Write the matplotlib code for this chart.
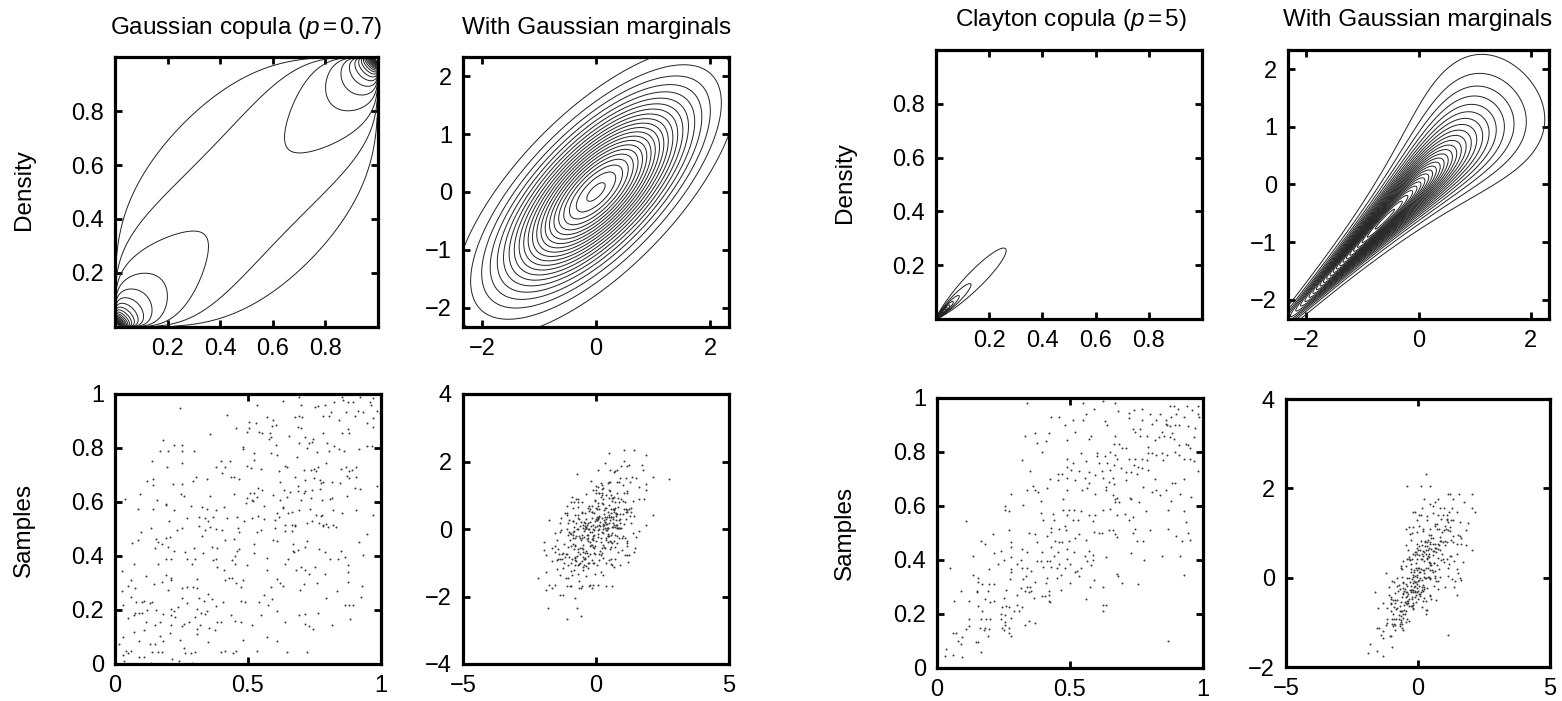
import math

import matplotlib
matplotlib.use("Agg")
import matplotlib.pyplot as plt
import numpy as np

plt.rcParams["font.family"] = ["Liberation Sans", "DejaVu Sans"]
plt.rcParams["mathtext.fontset"] = "custom"
plt.rcParams["mathtext.it"] = "Liberation Sans:italic"
plt.rcParams["mathtext.rm"] = "Liberation Sans"

# copula parameters
RHO = 0.7
THETA = 5.0

# contour levels
gauss_copula_levels = np.arange(0.5, 13.01, 0.5)
gauss_marg_levels = np.arange(0.01, 0.225, 0.01)
clayton_copula_levels = np.arange(5, 101, 5)
clayton_marg_levels = np.arange(0.02, 0.61, 0.02)

# samples in copula space (u, v)
gauss_samples = [
    (0.243, 0.949), (0.534, 0.959), (0.630, 0.975), (0.692, 0.988), (0.700, 0.959), (0.751, 0.953),
    (0.764, 0.957), (0.788, 0.959), (0.823, 0.970), (0.852, 0.990), (0.858, 0.978), (0.877, 0.969),
    (0.896, 0.972), (0.921, 0.990), (0.959, 0.972), (0.961, 0.959), (0.971, 0.986),
    (0.421, 0.921), (0.504, 0.898), (0.529, 0.894), (0.573, 0.914), (0.595, 0.904), (0.604, 0.885),
    (0.589, 0.881), (0.677, 0.914), (0.690, 0.920), (0.704, 0.916), (0.783, 0.917), (0.806, 0.917),
    (0.813, 0.933), (0.843, 0.904), (0.870, 0.933), (0.902, 0.917), (0.912, 0.938), (0.934, 0.933),
    (0.946, 0.893), (0.969, 0.910), (0.971, 0.877), (0.984, 0.938),
    (0.356, 0.853), (0.455, 0.875), (0.495, 0.859), (0.505, 0.875), (0.543, 0.860), (0.551, 0.856),
    (0.583, 0.857), (0.586, 0.842), (0.578, 0.832), (0.653, 0.846), (0.688, 0.877), (0.698, 0.873),
    (0.714, 0.840), (0.731, 0.817), (0.739, 0.821), (0.746, 0.832), (0.782, 0.854), (0.855, 0.854),
    (0.877, 0.869), (0.881, 0.857),
    (0.182, 0.828), (0.169, 0.790), (0.201, 0.789), (0.223, 0.811), (0.250, 0.810), (0.252, 0.788),
    (0.297, 0.788), (0.480, 0.802), (0.483, 0.795), (0.524, 0.780), (0.585, 0.780), (0.605, 0.810),
    (0.610, 0.774), (0.692, 0.817), (0.721, 0.800), (0.758, 0.784), (0.797, 0.817), (0.806, 0.790),
    (0.823, 0.809), (0.841, 0.795), (0.861, 0.790), (0.917, 0.798), (0.949, 0.809), (0.965, 0.809),
    (0.683, 0.765),
    (0.138, 0.752), (0.250, 0.746), (0.398, 0.751), (0.434, 0.751), (0.197, 0.731), (0.380, 0.731),
    (0.414, 0.728), (0.497, 0.733), (0.511, 0.725), (0.550, 0.721), (0.524, 0.756), (0.618, 0.716),
    (0.639, 0.733), (0.648, 0.731), (0.712, 0.719), (0.735, 0.719), (0.749, 0.721), (0.756, 0.715),
    (0.762, 0.731), (0.794, 0.746), (0.850, 0.723), (0.868, 0.728), (0.881, 0.715), (0.890, 0.719),
    (0.905, 0.731),
    (0.119, 0.679), (0.141, 0.684), (0.141, 0.663), (0.217, 0.665), (0.253, 0.665), (0.303, 0.691),
    (0.295, 0.679), (0.345, 0.684), (0.402, 0.706), (0.437, 0.694), (0.446, 0.691), (0.465, 0.686),
    (0.620, 0.675), (0.677, 0.691), (0.689, 0.659), (0.714, 0.681), (0.749, 0.690), (0.770, 0.681),
    (0.774, 0.672), (0.783, 0.675), (0.815, 0.675), (0.846, 0.669), (0.873, 0.696), (0.881, 0.688),
    (0.905, 0.694), (0.902, 0.653), (0.921, 0.647), (0.984, 0.659),
    (0.039, 0.610), (0.095, 0.631), (0.159, 0.607), (0.190, 0.593), (0.247, 0.630), (0.258, 0.622),
    (0.357, 0.622), (0.447, 0.628), (0.495, 0.614), (0.508, 0.635), (0.524, 0.633), (0.533, 0.620),
    (0.539, 0.651), (0.551, 0.644), (0.492, 0.598), (0.514, 0.607), (0.520, 0.604), (0.560, 0.585),
    (0.595, 0.626), (0.637, 0.644), (0.658, 0.638), (0.689, 0.641), (0.711, 0.635), (0.714, 0.641),
    (0.739, 0.644), (0.771, 0.647), (0.779, 0.607), (0.808, 0.610), (0.815, 0.616), (0.620, 0.607),
    (0.645, 0.617), (0.698, 0.607), (0.737, 0.614), (0.872, 0.622),
    (0.088, 0.573), (0.144, 0.573), (0.192, 0.589), (0.223, 0.570), (0.284, 0.585), (0.326, 0.580),
    (0.345, 0.573), (0.380, 0.570), (0.410, 0.580), (0.630, 0.577), (0.633, 0.583), (0.608, 0.558),
    (0.649, 0.560), (0.665, 0.564), (0.690, 0.570), (0.733, 0.573), (0.754, 0.552), (0.773, 0.548),
    (0.780, 0.552), (0.821, 0.570), (0.852, 0.560), (0.905, 0.570), (0.971, 0.552),
    (0.202, 0.528), (0.269, 0.541), (0.317, 0.543), (0.338, 0.541), (0.348, 0.528), (0.370, 0.546),
    (0.420, 0.541), (0.457, 0.546), (0.485, 0.528), (0.514, 0.541), (0.539, 0.548), (0.560, 0.536),
    (0.602, 0.533), (0.617, 0.546), (0.638, 0.515), (0.664, 0.515), (0.678, 0.515), (0.720, 0.523),
    (0.739, 0.528), (0.768, 0.521), (0.783, 0.515), (0.793, 0.517), (0.818, 0.515),
    (0.096, 0.490), (0.135, 0.502), (0.232, 0.496), (0.251, 0.502), (0.317, 0.512), (0.338, 0.496),
    (0.357, 0.509), (0.380, 0.500), (0.401, 0.496), (0.461, 0.504), (0.466, 0.488), (0.533, 0.490),
    (0.548, 0.496), (0.600, 0.504), (0.640, 0.493), (0.664, 0.493), (0.677, 0.512), (0.783, 0.512),
    (0.802, 0.509), (0.831, 0.509), (0.946, 0.480),
    (0.063, 0.447), (0.088, 0.459), (0.154, 0.463), (0.163, 0.451), (0.175, 0.443), (0.190, 0.468),
    (0.207, 0.472), (0.150, 0.431), (0.198, 0.435), (0.223, 0.419), (0.263, 0.416), (0.297, 0.431),
    (0.326, 0.474), (0.363, 0.435), (0.382, 0.431), (0.414, 0.459), (0.447, 0.462), (0.467, 0.426),
    (0.460, 0.419), (0.523, 0.443), (0.523, 0.410), (0.570, 0.394), (0.595, 0.459), (0.608, 0.456),
    (0.670, 0.443), (0.674, 0.416), (0.689, 0.422), (0.714, 0.435), (0.723, 0.456), (0.768, 0.426),
    (0.789, 0.414), (0.848, 0.420), (0.918, 0.451), (0.934, 0.404),
    (0.19, 0.39), (0.21, 0.39), (0.27, 0.39), (0.30, 0.39), (0.33, 0.41), (0.37, 0.385), (0.38, 0.39),
    (0.44, 0.385), (0.45, 0.40), (0.65, 0.39), (0.67, 0.42), (0.81, 0.39), (0.84, 0.39), (0.865, 0.395),
    (0.07, 0.37), (0.16, 0.37), (0.29, 0.37), (0.385, 0.36), (0.45, 0.37), (0.495, 0.365), (0.64, 0.37),
    (0.70, 0.36), (0.715, 0.35), (0.75, 0.36), (0.875, 0.365), (0.41, 0.35), (0.57, 0.35), (0.68, 0.35),
    (0.025, 0.345), (0.115, 0.325), (0.19, 0.33), (0.21, 0.32), (0.73, 0.335), (0.79, 0.335),
    (0.875, 0.34), (0.43, 0.32), (0.44, 0.32),
    (0.06, 0.31), (0.145, 0.295), (0.21, 0.31), (0.31, 0.315), (0.415, 0.31), (0.455, 0.30), (0.48, 0.31),
    (0.475, 0.285), (0.61, 0.315), (0.62, 0.30), (0.63, 0.29), (0.71, 0.295), (0.76, 0.30), (0.875, 0.305),
    (0.93, 0.29), (0.05, 0.29), (0.076, 0.28), (0.175, 0.305), (0.20, 0.275), (0.25, 0.28), (0.27, 0.285),
    (0.295, 0.285), (0.31, 0.28), (0.585, 0.285), (0.695, 0.275),
    (0.025, 0.27), (0.06, 0.25), (0.08, 0.23), (0.10, 0.23), (0.11, 0.235), (0.13, 0.225), (0.14, 0.23),
    (0.25, 0.245), (0.27, 0.225), (0.315, 0.245), (0.335, 0.235), (0.35, 0.26), (0.365, 0.24),
    (0.38, 0.215), (0.405, 0.23), (0.475, 0.235), (0.49, 0.23), (0.54, 0.23), (0.56, 0.255), (0.575, 0.22),
    (0.59, 0.24), (0.795, 0.245), (0.835, 0.27), (0.865, 0.22), (0.88, 0.22), (0.895, 0.22), (0.925, 0.25),
    (0.03, 0.22),
    (0.075, 0.19), (0.09, 0.19), (0.10, 0.19), (0.07, 0.18), (0.05, 0.17), (0.12, 0.20), (0.155, 0.20),
    (0.18, 0.185), (0.21, 0.205), (0.22, 0.195), (0.235, 0.21), (0.21, 0.18), (0.26, 0.15), (0.28, 0.155),
    (0.30, 0.175), (0.31, 0.205), (0.325, 0.19), (0.34, 0.185), (0.345, 0.195), (0.435, 0.18),
    (0.45, 0.16), (0.475, 0.155), (0.515, 0.145), (0.55, 0.18), (0.61, 0.195), (0.64, 0.155), (0.69, 0.18),
    (0.715, 0.185), (0.715, 0.15), (0.73, 0.14), (0.745, 0.13), (0.765, 0.19), (0.815, 0.145),
    (0.885, 0.165), (0.115, 0.155), (0.17, 0.155), (0.21, 0.145), (0.225, 0.175),
    (0.07, 0.12), (0.11, 0.125), (0.15, 0.145), (0.205, 0.115), (0.25, 0.14), (0.31, 0.13), (0.32, 0.145),
    (0.31, 0.11), (0.355, 0.135), (0.385, 0.155), (0.375, 0.125), (0.40, 0.155), (0.17, 0.105),
    (0.09, 0.085), (0.18, 0.085), (0.03, 0.10), (0.015, 0.075), (0.57, 0.10), (0.61, 0.085), (0.48, 0.09),
    (0.35, 0.08), (0.245, 0.09),
    (0.15, 0.075), (0.13, 0.075), (0.04, 0.05), (0.05, 0.04), (0.06, 0.05), (0.03, 0.035), (0.035, 0.01),
    (0.09, 0.025), (0.11, 0.025), (0.14, 0.045), (0.16, 0.045), (0.175, 0.045), (0.215, 0.02),
    (0.24, 0.01), (0.26, 0.06), (0.265, 0.04), (0.285, 0.04), (0.30, 0.045), (0.29, 0.005), (0.40, 0.045),
    (0.415, 0.05), (0.445, 0.04), (0.455, 0.05), (0.535, 0.05), (0.645, 0.045), (0.72, 0.045),
    (0.997, 0.93), (0.136, 0.004),
]

clayton_samples = [
    (0.34, 0.98), (0.55, 0.98), (0.625, 0.99), (0.67, 0.98), (0.59, 0.96), (0.56, 0.94), (0.55, 0.92),
    (0.43, 0.93), (0.46, 0.93), (0.51, 0.92), (0.48, 0.90), (0.63, 0.915), (0.64, 0.90), (0.68, 0.95),
    (0.72, 0.945), (0.72, 0.925), (0.74, 0.955), (0.77, 0.96), (0.77, 0.92), (0.80, 0.94), (0.81, 0.905),
    (0.825, 0.92), (0.84, 0.94), (0.86, 0.92), (0.86, 0.905), (0.875, 0.97), (0.89, 0.97), (0.905, 0.96),
    (0.88, 0.93), (0.90, 0.94), (0.93, 0.93), (0.94, 0.97), (0.96, 0.955), (0.98, 0.97), (0.98, 0.94),
    (0.985, 0.93), (0.865, 0.90), (0.875, 0.895), (0.895, 0.90), (0.91, 0.90), (0.945, 0.895), (0.97, 0.89),
    (0.33, 0.86), (0.37, 0.87), (0.42, 0.87), (0.49, 0.845), (0.52, 0.875), (0.58, 0.86), (0.57, 0.85),
    (0.67, 0.86), (0.665, 0.83), (0.685, 0.83), (0.695, 0.815), (0.71, 0.815), (0.735, 0.885),
    (0.745, 0.875), (0.765, 0.885), (0.765, 0.86), (0.79, 0.86), (0.82, 0.845), (0.835, 0.855),
    (0.845, 0.875), (0.855, 0.86), (0.875, 0.855), (0.885, 0.87), (0.89, 0.85), (0.91, 0.825),
    (0.935, 0.83), (0.945, 0.825), (0.95, 0.815), (0.965, 0.855), (0.41, 0.84), (0.375, 0.835),
    (0.395, 0.80), (0.54, 0.795), (0.60, 0.795), (0.60, 0.785), (0.63, 0.785), (0.65, 0.80), (0.67, 0.79),
    (0.675, 0.775), (0.61, 0.76), (0.64, 0.76), (0.72, 0.775), (0.745, 0.775), (0.77, 0.775), (0.795, 0.82),
    (0.795, 0.795), (0.81, 0.795), (0.825, 0.79), (0.845, 0.795), (0.865, 0.79), (0.895, 0.80), (0.91, 0.79),
    (0.93, 0.775), (0.95, 0.775), (0.965, 0.765), (0.79, 0.77), (0.85, 0.77), (0.32, 0.77), (0.49, 0.775),
    (0.56, 0.765), (0.51, 0.76), (0.665, 0.75), (0.74, 0.75),
    (0.35, 0.73), (0.455, 0.72), (0.47, 0.72), (0.49, 0.745), (0.505, 0.735), (0.535, 0.73), (0.57, 0.725),
    (0.595, 0.715), (0.62, 0.73), (0.65, 0.735), (0.69, 0.74), (0.71, 0.725), (0.73, 0.725), (0.75, 0.72),
    (0.755, 0.745), (0.77, 0.74), (0.795, 0.735), (0.82, 0.70), (0.885, 0.685), (0.93, 0.70), (0.98, 0.73),
    (0.425, 0.70), (0.455, 0.695), (0.49, 0.705), (0.52, 0.695), (0.555, 0.705), (0.57, 0.685),
    (0.625, 0.705), (0.645, 0.69), (0.66, 0.705), (0.665, 0.68), (0.71, 0.695),
    (0.28, 0.645), (0.34, 0.66), (0.36, 0.675), (0.37, 0.66), (0.38, 0.65), (0.39, 0.62), (0.415, 0.665),
    (0.49, 0.66), (0.545, 0.66), (0.565, 0.665), (0.595, 0.645), (0.635, 0.67), (0.635, 0.66), (0.66, 0.64),
    (0.67, 0.625), (0.675, 0.63), (0.67, 0.615), (0.685, 0.615), (0.725, 0.63), (0.73, 0.625), (0.76, 0.615),
    (0.775, 0.67), (0.81, 0.65), (0.825, 0.66), (0.84, 0.64), (0.86, 0.66), (0.88, 0.62), (0.895, 0.685),
    (0.915, 0.645), (0.955, 0.635), (0.475, 0.625), (0.325, 0.605), (0.255, 0.60),
    (0.255, 0.585), (0.27, 0.58), (0.11, 0.545), (0.39, 0.575), (0.40, 0.55), (0.435, 0.57), (0.44, 0.55),
    (0.475, 0.585), (0.49, 0.565), (0.495, 0.585), (0.51, 0.55), (0.515, 0.585), (0.53, 0.55), (0.54, 0.58),
    (0.57, 0.565), (0.585, 0.545), (0.595, 0.565), (0.625, 0.585), (0.65, 0.59), (0.675, 0.565),
    (0.705, 0.57), (0.72, 0.55), (0.735, 0.56), (0.785, 0.58), (0.87, 0.585), (0.93, 0.58), (0.935, 0.54),
    (0.43, 0.52), (0.48, 0.525), (0.66, 0.51), (0.745, 0.515),
    (0.21, 0.495), (0.27, 0.51), (0.345, 0.50), (0.37, 0.495), (0.415, 0.49), (0.43, 0.505), (0.46, 0.515),
    (0.485, 0.51), (0.535, 0.495), (0.59, 0.505), (0.61, 0.50), (0.62, 0.50), (0.645, 0.51), (0.67, 0.495),
    (0.675, 0.485), (0.735, 0.50), (0.75, 0.47), (0.775, 0.47), (0.80, 0.51), (0.87, 0.515), (0.90, 0.49),
    (0.92, 0.47), (0.945, 0.50), (0.95, 0.475), (0.165, 0.47), (0.18, 0.46),
    (0.28, 0.465), (0.28, 0.45), (0.32, 0.44), (0.34, 0.43), (0.375, 0.465), (0.395, 0.43), (0.43, 0.45),
    (0.445, 0.47), (0.46, 0.465), (0.47, 0.465), (0.49, 0.44), (0.495, 0.47), (0.52, 0.48), (0.56, 0.475),
    (0.57, 0.435), (0.555, 0.415), (0.585, 0.42), (0.455, 0.43), (0.515, 0.43), (0.215, 0.425),
    (0.24, 0.435), (0.28, 0.41), (0.315, 0.40), (0.135, 0.415), (0.73, 0.425), (0.78, 0.40), (0.845, 0.415),
    (0.915, 0.415), (0.635, 0.41), (0.49, 0.405), (0.44, 0.415),
    (0.05, 0.37), (0.195, 0.365), (0.23, 0.385), (0.25, 0.40), (0.28, 0.365), (0.28, 0.355), (0.30, 0.385),
    (0.32, 0.37), (0.34, 0.37), (0.355, 0.36), (0.375, 0.395), (0.39, 0.395), (0.40, 0.375), (0.415, 0.395),
    (0.425, 0.395), (0.43, 0.375), (0.45, 0.37), (0.46, 0.385), (0.48, 0.37), (0.50, 0.385), (0.52, 0.355),
    (0.525, 0.36), (0.54, 0.37), (0.565, 0.395), (0.58, 0.38), (0.585, 0.40), (0.275, 0.33), (0.325, 0.33),
    (0.335, 0.34), (0.37, 0.32), (0.415, 0.335), (0.45, 0.335), (0.465, 0.345), (0.50, 0.315),
    (0.535, 0.34), (0.675, 0.35), (0.68, 0.34), (0.93, 0.345), (0.135, 0.345), (0.155, 0.335),
    (0.155, 0.32), (0.17, 0.31), (0.195, 0.31), (0.215, 0.31), (0.15, 0.285),
    (0.09, 0.285), (0.15, 0.28), (0.19, 0.285), (0.26, 0.29), (0.30, 0.27), (0.315, 0.295), (0.33, 0.285),
    (0.34, 0.30), (0.35, 0.30), (0.355, 0.285), (0.365, 0.26), (0.345, 0.28), (0.395, 0.265), (0.405, 0.265),
    (0.42, 0.27), (0.42, 0.285), (0.42, 0.25), (0.425, 0.245), (0.41, 0.315), (0.465, 0.29), (0.56, 0.255),
    (0.575, 0.30), (0.59, 0.325), (0.625, 0.30), (0.695, 0.315), (0.755, 0.31), (0.065, 0.25), (0.12, 0.25),
    (0.18, 0.255), (0.20, 0.245), (0.215, 0.25), (0.25, 0.26), (0.30, 0.235), (0.32, 0.225),
    (0.155, 0.23), (0.245, 0.225), (0.26, 0.23), (0.27, 0.225), (0.29, 0.21), (0.31, 0.21), (0.625, 0.235),
    (0.635, 0.235), (0.625, 0.21), (0.17, 0.21), (0.24, 0.20), (0.255, 0.195), (0.12, 0.18), (0.165, 0.18),
    (0.185, 0.18), (0.20, 0.18), (0.24, 0.18), (0.255, 0.17), (0.255, 0.16), (0.28, 0.185), (0.27, 0.15),
    (0.345, 0.175), (0.33, 0.16), (0.37, 0.165), (0.12, 0.155), (0.11, 0.145), (0.16, 0.15), (0.175, 0.14),
    (0.18, 0.15), (0.195, 0.145), (0.19, 0.12), (0.245, 0.15), (0.25, 0.14), (0.28, 0.12),
    (0.06, 0.13), (0.07, 0.13), (0.095, 0.115), (0.08, 0.10), (0.09, 0.09), (0.145, 0.095), (0.155, 0.095),
    (0.165, 0.06), (0.035, 0.07), (0.03, 0.045), (0.06, 0.05), (0.095, 0.04), (0.87, 0.10), (0.27, 0.13),
]


_erf = np.vectorize(math.erf)


def norm_cdf(x):
    return 0.5 * (1.0 + _erf(np.asarray(x, float) / math.sqrt(2.0)))


def norm_pdf(x):
    return np.exp(-0.5 * x ** 2) / math.sqrt(2.0 * math.pi)


def norm_ppf(p):
    # plain bisection, good enough for plotting
    p = np.asarray(p, float)
    lo = np.full_like(p, -9.0)
    hi = np.full_like(p, 9.0)
    for _ in range(55):
        mid = 0.5 * (lo + hi)
        below = norm_cdf(mid) < p
        lo = np.where(below, mid, lo)
        hi = np.where(below, hi, mid)
    return 0.5 * (lo + hi)


def gauss_copula_density(zx, zy, rho):
    q = (rho ** 2 * (zx ** 2 + zy ** 2) - 2 * rho * zx * zy) / (2 * (1 - rho ** 2))
    return np.exp(-q) / np.sqrt(1 - rho ** 2)


def clayton_density(u, v, th):
    s = u ** -th + v ** -th - 1.0
    return (1 + th) * (u * v) ** (-th - 1) * s ** (-2 - 1 / th)


def style_axes(ax):
    for sp in ax.spines.values():
        sp.set_linewidth(2.3)
    ax.tick_params(direction="in", length=5, width=2.0, top=True, right=True,
                   labelsize=17, pad=8)


FIG_W, FIG_H = 1562, 701


def add_ax(fig, left, right, top, bottom):
    return fig.add_axes([left / FIG_W, 1 - bottom / FIG_H,
                         (right - left) / FIG_W, (bottom - top) / FIG_H])


fig = plt.figure(figsize=(FIG_W / 100, FIG_H / 100), dpi=100)

g_u = np.array([p[0] for p in gauss_samples])
g_v = np.array([p[1] for p in gauss_samples])
c_u = np.array([p[0] for p in clayton_samples])
c_v = np.array([p[1] for p in clayton_samples])

ugrid = np.linspace(0.003, 0.997, 260)
zgrid = norm_ppf(ugrid)
ZX, ZY = np.meshgrid(zgrid, zgrid)
UX, UY = np.meshgrid(ugrid, ugrid)

# clayton grid stops short of the (1,1) corner, as in the original
cgrid = np.linspace(0.003, 0.97, 260)
CX, CY = np.meshgrid(cgrid, cgrid)

xgrid = np.linspace(-2.33, 2.33, 320)
px = norm_cdf(xgrid)
XX, YY = np.meshgrid(xgrid, xgrid)
PX, PY = np.meshgrid(px, px)
phi2 = norm_pdf(XX) * norm_pdf(YY)

line_kw = dict(colors="#222222", linewidths=0.7)
dot_kw = dict(s=2.0, color="#3a3a3a", linewidths=0)

# ---- Gaussian copula, density ----
ax = add_ax(fig, 115, 378, 57, 327)
ax.contour(UX, UY, gauss_copula_density(ZX, ZY, RHO), levels=gauss_copula_levels, **line_kw)
ax.set_xlim(0, 1)
ax.set_ylim(0, 1)
ax.set_xticks([0.2, 0.4, 0.6, 0.8])
ax.set_yticks([0.2, 0.4, 0.6, 0.8])
style_axes(ax)

# ---- Gaussian copula, Gaussian marginals ----
ax = add_ax(fig, 463, 729, 57, 327)
dens = gauss_copula_density(XX, YY, RHO) * phi2
ax.contour(XX, YY, dens, levels=gauss_marg_levels, **line_kw)
ax.set_xlim(-2.33, 2.33)
ax.set_ylim(-2.33, 2.33)
ax.set_xticks([-2, 0, 2])
ax.set_yticks([-2, -1, 0, 1, 2])
style_axes(ax)

# ---- Gaussian copula, samples ----
ax = add_ax(fig, 115, 381, 394, 664)
ax.scatter(g_u, g_v, **dot_kw)
ax.set_xlim(0, 1)
ax.set_ylim(0, 1)
ax.set_xticks([0, 0.5, 1])
ax.set_xticklabels(["0", "0.5", "1"])
ax.set_yticks([0, 0.2, 0.4, 0.6, 0.8, 1])
ax.set_yticklabels(["0", "0.2", "0.4", "0.6", "0.8", "1"])
style_axes(ax)

ax = add_ax(fig, 463, 729, 394, 664)
ax.scatter(norm_ppf(g_u), norm_ppf(g_v), **dot_kw)
ax.set_xlim(-5, 5)
ax.set_ylim(-4, 4)
ax.set_xticks([-5, 0, 5])
ax.set_yticks([-4, -2, 0, 2, 4])
style_axes(ax)

# ---- Clayton copula, density ----
ax = add_ax(fig, 936, 1202, 50, 319)
ax.contour(CX, CY, clayton_density(CX, CY, THETA), levels=clayton_copula_levels, **line_kw)
ax.set_xlim(0, 1)
ax.set_ylim(0, 1)
ax.set_xticks([0.2, 0.4, 0.6, 0.8])
ax.set_yticks([0.2, 0.4, 0.6, 0.8])
style_axes(ax)

ax = add_ax(fig, 1288, 1549, 50, 319)
dens = clayton_density(PX, PY, THETA) * phi2
ax.contour(XX, YY, dens, levels=clayton_marg_levels, **line_kw)
ax.set_xlim(-2.33, 2.33)
ax.set_ylim(-2.33, 2.33)
ax.set_xticks([-2, 0, 2])
ax.set_yticks([-2, -1, 0, 1, 2])
style_axes(ax)

# ---- Clayton copula, samples ----
ax = add_ax(fig, 937, 1203, 398, 668)
ax.scatter(c_u, c_v, **dot_kw)
ax.set_xlim(0, 1)
ax.set_ylim(0, 1)
ax.set_xticks([0, 0.5, 1])
ax.set_xticklabels(["0", "0.5", "1"])
ax.set_yticks([0, 0.2, 0.4, 0.6, 0.8, 1])
ax.set_yticklabels(["0", "0.2", "0.4", "0.6", "0.8", "1"])
style_axes(ax)

ax = add_ax(fig, 1286, 1550, 399, 667)
ax.scatter(norm_ppf(c_u), norm_ppf(c_v), **dot_kw)
ax.set_xlim(-5, 5)
ax.set_ylim(-2, 4)
ax.set_xticks([-5, 0, 5])
ax.set_yticks([-2, 0, 2, 4])
style_axes(ax)

# titles and row labels
title_kw = dict(ha="center", va="center", fontsize=17.5)
fig.text(246 / FIG_W, 1 - 28 / FIG_H, r"Gaussian copula ($p$$\,$=$\,$0.7)", **title_kw)
fig.text(597 / FIG_W, 1 - 28 / FIG_H, "With Gaussian marginals", **title_kw)
fig.text(1071 / FIG_W, 1 - 20 / FIG_H, r"Clayton copula ($p$$\,$=$\,$5)", **title_kw)
fig.text(1418 / FIG_W, 1 - 20 / FIG_H, "With Gaussian marginals", **title_kw)

label_kw = dict(ha="center", va="center", rotation=90, fontsize=17.5)
fig.text(24 / FIG_W, 1 - 190 / FIG_H, "Density", **label_kw)
fig.text(24 / FIG_W, 1 - 530 / FIG_H, "Samples", **label_kw)
fig.text(845 / FIG_W, 1 - 183 / FIG_H, "Density", **label_kw)
fig.text(845 / FIG_W, 1 - 533 / FIG_H, "Samples", **label_kw)

fig.savefig("out.png", dpi=100)
